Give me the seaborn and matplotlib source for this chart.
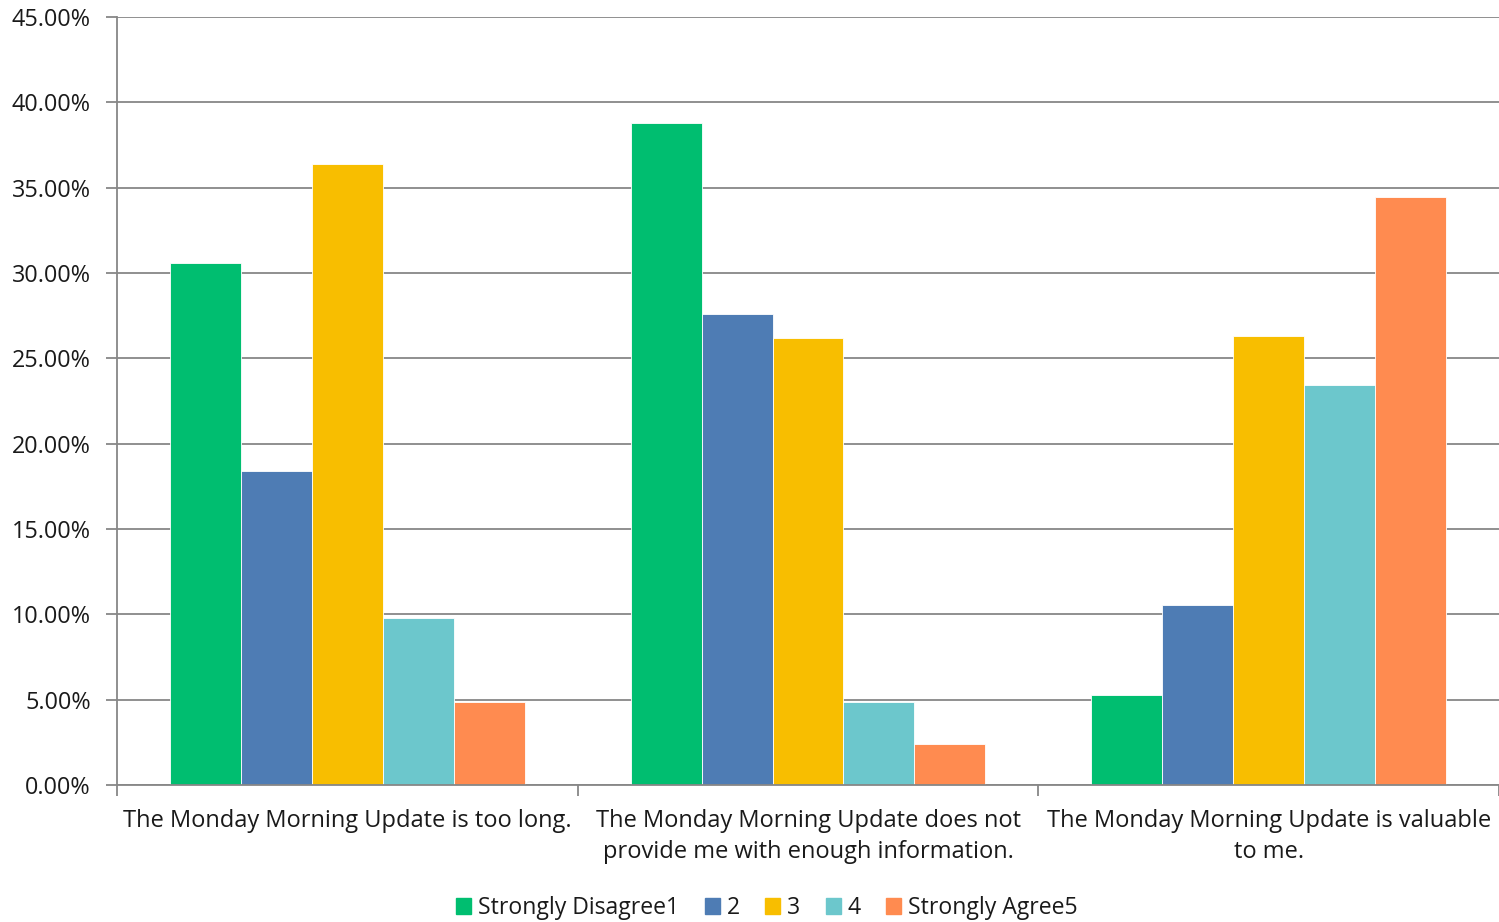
import matplotlib
matplotlib.use("Agg")
import matplotlib.pyplot as plt
import seaborn as sns
import pandas as pd
import numpy as np
from matplotlib.ticker import PercentFormatter, FixedLocator

categories = [
    "The Monday Morning Update is too long.",
    "The Monday Morning Update does not provide me with enough information.",
    "The Monday Morning Update is valuable to me.",
]
tick_labels = [
    "The Monday Morning Update is too long.",
    "The Monday Morning Update does not\nprovide me with enough information.",
    "The Monday Morning Update is valuable\nto me.",
]
series_names = ["Strongly Disagree1", "2", "3", "4", "Strongly Agree5"]
strongly_disagree1 = [30.6, 38.8, 5.26]
s2 = [18.4, 27.62, 10.53]
s3 = [36.4, 26.2, 26.32]
s4 = [9.76, 4.85, 23.44]
strongly_agree5 = [4.88, 2.43, 34.45]
colors = ["#00BE70", "#4E7CB4", "#F8BE00", "#6CC7CC", "#FF8B50"]

values = [strongly_disagree1, s2, s3, s4, strongly_agree5]
rows = []
for name, vals in zip(series_names, values):
    for cat, v in zip(categories, vals):
        rows.append({"category": cat, "series": name, "value": v})
df = pd.DataFrame(rows)

sns.set_theme(style="white")
plt.rcParams["font.family"] = ["Open Sans", "DejaVu Sans"]

fig = plt.figure(figsize=(14.99, 9.22), dpi=100)
ax = fig.add_axes([117 / 1499, 137 / 922, 1 - 117 / 1499, (785 - 17) / 922])

sns.barplot(data=df, x="category", y="value", hue="series", order=categories,
            hue_order=series_names, palette=colors, width=0.77, saturation=1,
            edgecolor="white", linewidth=0.6, ax=ax, legend=True)

grid_c = "#878787"
ax.set_ylim(0, 45)
ax.set_xlim(-0.5, 2.5)
ax.set_yticks(np.arange(0, 45.01, 5))
ax.yaxis.set_major_formatter(PercentFormatter(decimals=2))
ax.yaxis.grid(True, color=grid_c, linewidth=1.3)
ax.set_axisbelow(True)
ax.set_xticks(range(3))
ax.set_xticklabels(tick_labels, fontsize=17, color="#1a1a1a", linespacing=1.42)
ax.tick_params(axis="x", length=0, pad=17)
ax.tick_params(axis="y", length=8, width=1.3, color=grid_c, labelsize=16.8,
               labelcolor="#1a1a1a", pad=11, left=True)
ax.xaxis.set_minor_locator(FixedLocator([-0.5, 0.5, 1.5, 2.5]))
ax.tick_params(axis="x", which="minor", length=8, width=1.3, color=grid_c, bottom=True)
ax.set_xlabel("")
ax.set_ylabel("")
for s in ["top", "right"]:
    ax.spines[s].set_visible(False)
for s in ["left", "bottom"]:
    ax.spines[s].set_color(grid_c)
    ax.spines[s].set_linewidth(1.3)

ax.legend_.remove()
handles = [plt.Rectangle((0, 0), 1, 1, color=c) for c in colors]
fig.legend(handles, series_names, loc="center", bbox_to_anchor=(767 / 1499, 1 - 908 / 922),
           ncol=5, frameon=False, fontsize=16.6, handlelength=0.65, handleheight=0.65,
           handletextpad=0.3, columnspacing=1.1, labelcolor="#1a1a1a")

fig.savefig("out.png", dpi=100)
